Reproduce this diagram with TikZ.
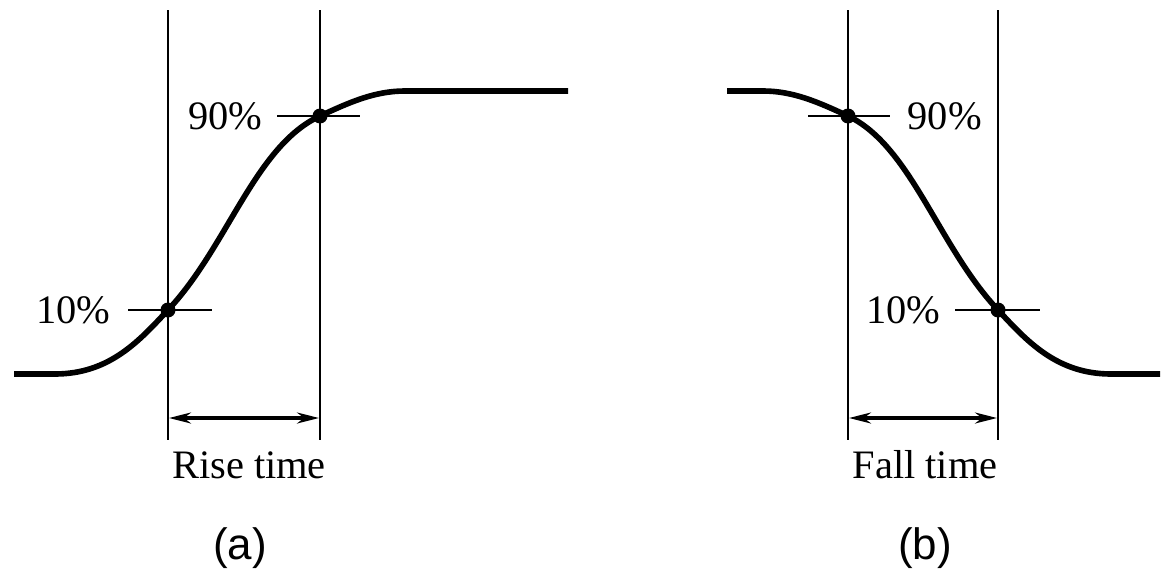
\documentclass[tikz,border=0pt]{standalone}
\usepackage{fontspec}
\setmainfont{Liberation Serif}
\newfontfamily\capfont{Liberation Sans}
\usetikzlibrary{arrows.meta}

\begin{document}
\begin{tikzpicture}[x=0.1mm, y=-0.1mm, >={Stealth[length=2.2mm,width=1.1mm]},
  every node/.style={font=\fontsize{11.5}{13}\selectfont, inner sep=0pt},
  guide/.style={line width=0.65pt},
  signal/.style={line width=1.6pt},
  level/.style={line width=0.65pt},
  span/.style={<->, line width=0.9pt},
  dot/.style={circle, fill, minimum size=1.5mm, inner sep=0pt}]
  \useasboundingbox (0,0) rectangle (1165,574);
  % (a) rise time
  \draw[signal] (14,374) -- (55,374) .. controls (110,374) and (140,340) .. (168,310)
    .. controls (228,246) and (255,146) .. (320,116)
    .. controls (350,102) and (375,91) .. (405,91) -- (568,91);
  \node[dot] (r10) at (168,310) {};
  \node[dot] (r90) at (320,116) {};
  \coordinate (r10top) at (168,10);
  \coordinate (r10bot) at (168,440);
  \coordinate (r90top) at (320,10);
  \coordinate (r90bot) at (320,440);
  \draw[guide] (r10top) -- (r10bot);
  \draw[guide] (r90top) -- (r90bot);
  \draw[level] (128,310) -- (212,310);
  \draw[level] (277,116) -- (360,116);
  \node[anchor=east] (r10lab) at (111,310) {10\%};
  \node[anchor=east] (r90lab) at (263,116) {90\%};
  \coordinate (rstart) at (169,418);
  \coordinate (rend) at (319,418);
  \draw[span] (rstart) -- (rend);
  \node (rlab) at (249,465) {Rise time};
  \node[font=\capfont\fontsize{12.5}{14}\selectfont] (acap) at (240,548) {(a)};
  % (b) fall time
  \draw[signal] (1160,374) -- (1111,374) .. controls (1056,374) and (1026,340) .. (998,310)
    .. controls (938,246) and (911,146) .. (848,116)
    .. controls (818,102) and (793,91) .. (763,91) -- (727,91);
  \node[dot] (f90) at (848,116) {};
  \node[dot] (f10) at (998,310) {};
  \coordinate (f90top) at (848,10);
  \coordinate (f90bot) at (848,440);
  \coordinate (f10top) at (998,10);
  \coordinate (f10bot) at (998,440);
  \draw[guide] (f90top) -- (f90bot);
  \draw[guide] (f10top) -- (f10bot);
  \draw[level] (808,116) -- (890,116);
  \draw[level] (955,310) -- (1040,310);
  \node[anchor=west] (f90lab) at (907,116) {90\%};
  \node[anchor=east] (f10lab) at (941,310) {10\%};
  \coordinate (fstart) at (849,418);
  \coordinate (fend) at (997,418);
  \draw[span] (fstart) -- (fend);
  \node (flab) at (925,465) {Fall time};
  \node[font=\capfont\fontsize{12.5}{14}\selectfont] (bcap) at (925,548) {(b)};
\end{tikzpicture}
\end{document}
